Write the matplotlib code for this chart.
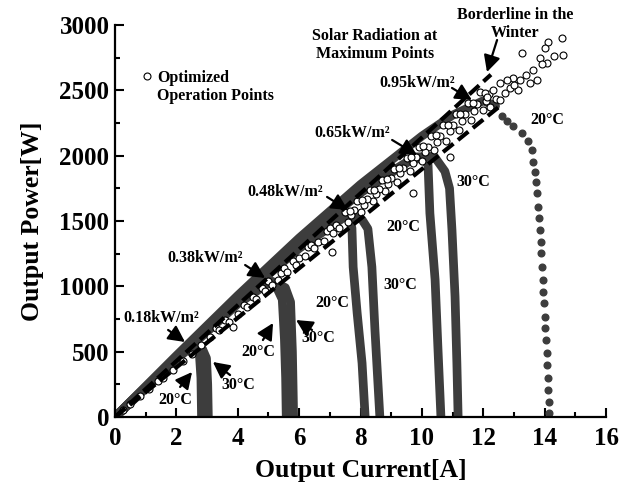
import numpy as np
import matplotlib.pyplot as plt

plt.rcParams['font.family'] = ['Liberation Serif', 'DejaVu Serif']
plt.rcParams['font.weight'] = 'bold'

# measured I-P curves, current [A] / power [W]
i_018_20 = [0, 1.0, 2.0, 2.35, 2.6, 2.75, 2.8, 2.82]
p_018_20 = [0, 225, 455, 545, 540, 480, 300, 0]
i_018_30 = [0, 1.0, 2.0, 2.5, 2.85, 2.98, 3.02, 3.04]
p_018_30 = [0, 220, 445, 540, 520, 450, 250, 0]

i_038_20 = [0, 2.0, 4.0, 4.9, 5.25, 5.45, 5.52, 5.56, 5.58]
p_038_20 = [0, 450, 880, 1040, 1000, 900, 600, 300, 0]
i_038_30 = [0, 2.0, 4.0, 5.1, 5.55, 5.72, 5.78, 5.82]
p_038_30 = [0, 440, 865, 1040, 990, 880, 500, 0]

i_048_20 = [0, 2.0, 4.0, 6.0, 7.3, 7.6, 7.72, 7.76, 7.89, 8.05, 8.15]
p_048_20 = [0, 455, 900, 1310, 1550, 1520, 1446, 1148, 796, 413, 0]
i_048_30 = [0, 2.0, 4.0, 6.0, 7.6, 8.05, 8.24, 8.37, 8.47, 8.63]
p_048_30 = [0, 450, 890, 1290, 1550, 1510, 1440, 1148, 666, 0]

i_065_20 = [0, 2.0, 4.0, 6.0, 8.0, 9.5, 10.0, 10.2, 10.26, 10.43, 10.52, 10.62]
p_065_20 = [0, 460, 915, 1350, 1730, 1950, 1985, 1930, 1560, 1050, 540, 0]
i_065_30 = [0, 2.0, 4.0, 6.0, 8.0, 9.8, 10.4, 10.75, 10.9, 10.98, 11.08, 11.14, 11.18]
p_065_30 = [0, 455, 905, 1335, 1715, 1990, 1995, 1880, 1750, 1430, 920, 410, 0]

i_095 = [0, 2.0, 4.0, 6.0, 8.0, 10.0, 11.0, 12.0, 12.4]
p_095 = [0, 470, 930, 1370, 1780, 2150, 2310, 2420, 2380]
i_095_dots = [12.60, 12.76, 12.98, 13.25, 13.47, 13.58, 13.63, 13.69, 13.72, 13.76,
              13.79, 13.83, 13.85, 13.87, 13.89, 13.91, 13.94, 13.96, 13.98, 14.00,
              14.02, 14.04, 14.07, 14.09, 14.10, 14.12, 14.13, 14.14]
p_095_dots = [2303, 2268, 2227, 2176, 2115, 2043, 1954, 1877, 1801, 1712,
              1610, 1520, 1431, 1342, 1253, 1150, 1048, 959, 870, 768,
              679, 589, 487, 398, 296, 207, 117, 30]

# optimized operation points
opt_i = [0.25, 0.5, 0.8, 1.1, 1.4, 1.55, 1.9, 2.2, 2.5, 2.8, 3.1, 3.3, 3.4, 3.6, 3.7, 3.84,
         4.0, 4.2, 4.3, 4.5, 4.6, 4.8, 4.9, 5.0, 5.1, 5.3, 5.4, 5.5, 5.6, 5.8, 5.9, 6.0,
         6.2, 6.3, 6.4, 6.5, 6.6, 6.8, 6.9, 7.0, 7.07, 7.1, 7.2, 7.3,
         7.6, 8.0, 8.4, 8.8, 9.2, 9.6, 10.0, 10.4, 10.8, 11.2, 11.6, 12.0, 12.4,
         7.8, 8.2, 8.6, 9.0, 9.4, 9.8, 10.2, 10.6, 11.0, 11.4, 11.8, 12.2,
         7.5, 7.9, 8.3, 8.7, 9.1, 9.5, 9.9, 10.3, 10.7, 11.1, 11.5, 11.9,
         7.7, 8.1, 8.5, 8.9, 9.3, 9.7, 10.1, 10.5, 10.9, 11.3, 11.7, 12.1,
         7.65, 8.05, 8.45, 8.85, 9.25, 9.65, 10.05, 10.45, 10.85, 11.25, 11.65, 12.05,
         9.71, 10.92,
         13.26, 14.11, 14.57, 14.6, 14.01, 14.08, 13.62, 13.85, 13.75, 13.52,
         13.2, 12.97, 12.77, 12.54, 13.13, 12.87, 12.32, 12.12, 12.54, 12.22,
         13.4, 13.0, 12.7, 13.9, 14.3]
opt_p = [50, 100, 160, 215, 275, 300, 360, 430, 485, 550, 610, 680, 665, 740, 725, 690,
         790, 860, 845, 920, 905, 985, 965, 1040, 1010, 1045, 1100, 1140, 1110, 1190, 1165, 1220,
         1230, 1300, 1315, 1290, 1340, 1350, 1420, 1445, 1263, 1410, 1470, 1450,
         1490, 1570, 1650, 1730, 1800, 1885, 1960, 2040, 2115, 2195, 2275, 2350, 2430,
         1585, 1665, 1745, 1830, 1905, 1990, 2070, 2150, 2235, 2315, 2395, 2475,
         1565, 1650, 1735, 1815, 1900, 1985, 2070, 2150, 2235, 2320, 2400, 2485,
         1545, 1625, 1705, 1785, 1865, 1945, 2025, 2105, 2185, 2265, 2345, 2420,
         1580, 1660, 1740, 1825, 1905, 1990, 2075, 2155, 2235, 2320, 2400, 2480,
         1714, 1990,
         2786, 2870, 2900, 2770, 2824, 2709, 2656, 2747, 2579, 2556,
         2579, 2594, 2579, 2556, 2502, 2518, 2502, 2449, 2426, 2372,
         2620, 2540, 2480, 2700, 2760]

# borderline in the winter and lower bound of the operation band
border_i = [0, 12.25]
border_p = [0, 2620]
lower_i = [0, 12.6]
lower_p = [0, 2390]

dark = '#3d3d3d'

fig = plt.figure(figsize=(6.21, 4.86), dpi=100)
ax = fig.add_axes([0.1852, 0.142, 0.7907, 0.8066])

curves = [(i_018_20, p_018_20), (i_018_30, p_018_30),
          (i_038_20, p_038_20), (i_038_30, p_038_30),
          (i_048_20, p_048_20), (i_048_30, p_048_30),
          (i_065_20, p_065_20), (i_065_30, p_065_30),
          (i_095, p_095)]
for ci, cp in curves:
    ax.plot(ci, cp, color=dark, lw=6.3, solid_capstyle='round',
            solid_joinstyle='round', zorder=2)
ax.plot(i_095_dots, p_095_dots, 'o', color=dark, ms=4.8, mec=dark, zorder=2)

ax.plot(opt_i, opt_p, 'o', mfc='white', mec='black', ms=5, mew=0.8, zorder=3)

ax.plot(border_i, border_p, color='black', lw=3, dashes=(3.2, 1.4), zorder=4)
ax.plot(lower_i, lower_p, color='black', lw=3, dashes=(3.2, 1.4), zorder=4)

arrow = dict(arrowstyle='-|>,head_length=0.55,head_width=0.28', mutation_scale=18,
             lw=1.6, color='black', shrinkA=0, shrinkB=0)
fs = 11.5

# radiation at maximum points
rad_labels = ['0.18kW/m²', '0.38kW/m²', '0.48kW/m²', '0.65kW/m²', '0.95kW/m²']
rad_text = [(1.50, 758), (2.93, 1217), (5.54, 1722), (7.72, 2173), (9.84, 2556)]
rad_tail = [(1.73, 666), (4.24, 1163), (6.91, 1684), (9.03, 2120), (10.98, 2518)]
rad_tip = [(2.28, 574), (4.89, 1064), (7.59, 1584), (9.84, 2005), (11.63, 2426)]
for lab, xy, tail, tip in zip(rad_labels, rad_text, rad_tail, rad_tip):
    ax.text(xy[0], xy[1], lab, fontsize=fs, ha='center', va='center', zorder=6)
    ax.annotate('', xy=tip, xytext=tail, arrowprops=arrow, zorder=6)

# panel temperature labels
temp_labels = ['20°C', '30°C', '20°C', '30°C', '20°C', '30°C', '20°C', '30°C', '20°C']
temp_text = [(1.955, 130), (4.01, 245), (4.66, 497), (6.61, 605), (7.07, 872),
             (9.29, 1010), (9.38, 1454), (11.66, 1798), (14.08, 2273)]
for lab, xy in zip(temp_labels, temp_text):
    ax.text(xy[0], xy[1], lab, fontsize=fs, ha='center', va='center', zorder=6)
temp_tail = [(2.12, 230), (3.75, 321), (4.82, 589), (6.42, 666)]
temp_tip = [(2.51, 344), (3.19, 421), (5.15, 719), (5.90, 742)]
for tail, tip in zip(temp_tail, temp_tip):
    ax.annotate('', xy=tip, xytext=tail, arrowprops=arrow, zorder=6)

ax.text(8.47, 2847, 'Solar Radiation at\nMaximum Points', fontsize=fs,
        ha='center', va='center', linespacing=1.15)
ax.text(13.03, 3008, 'Borderline in the\nWinter', fontsize=fs,
        ha='center', va='center', linespacing=1.15)
ax.annotate('', xy=(12.12, 2640), xytext=(12.45, 2885), arrowprops=arrow, zorder=6)

ax.plot([1.04], [2610], 'o', mfc='white', mec='black', ms=5, mew=0.8)
ax.text(1.37, 2525, 'Optimized\nOperation Points', fontsize=fs,
        ha='left', va='center', linespacing=1.2)

ax.set_xlim(0, 16)
ax.set_ylim(0, 3000)
ax.set_xticks(np.arange(0, 17, 2))
ax.set_xticks(np.arange(0, 17, 1), minor=True)
ax.set_yticks(np.arange(0, 3001, 500))
ax.set_yticks(np.arange(0, 3001, 250), minor=True)
ax.tick_params(which='both', direction='in', width=1.5, labelsize=18)
ax.tick_params(which='major', length=6.5)
ax.tick_params(which='minor', length=3.5)
ax.tick_params(axis='x', pad=7)
ax.tick_params(axis='y', pad=4)
for s in ['top', 'right']:
    ax.spines[s].set_visible(False)
for s in ['left', 'bottom']:
    ax.spines[s].set_linewidth(1.6)

ax.set_xlabel('Output Current[A]', fontsize=18.5, fontweight='bold', labelpad=7)
ax.set_ylabel('Output Power[W]', fontsize=18.5, fontweight='bold', labelpad=11)

fig.savefig('out.png', dpi=100)
